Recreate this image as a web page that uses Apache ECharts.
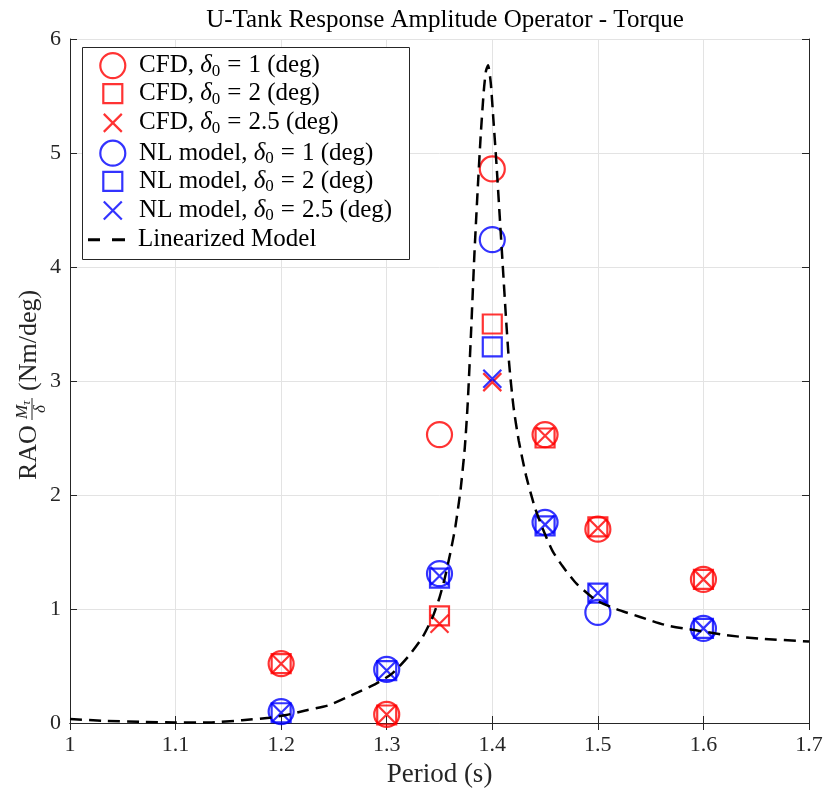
<!DOCTYPE html>
<html>
<head>
<meta charset="utf-8">
<script src="https://cdn.jsdelivr.net/npm/echarts@6/dist/echarts.min.js"></script>
<style>
  html, body { margin: 0; padding: 0; background: #fff; }
  #chart { width: 826px; height: 794px; }
</style>
</head>
<body>
<div id="chart"></div>
<script>
// Wave periods (s) at which CFD runs and the nonlinear model were evaluated
const periods = [1.2, 1.3, 1.35, 1.4, 1.45, 1.5, 1.6];

// RAO of torque, Nm/deg
const cfdDelta1   = [0.52, 0.075, 2.53, 4.86, 2.53, 1.70, 1.26];
const cfdDelta2   = [0.52, 0.070, 0.94, 3.50, 2.50, 1.72, 1.26];
const cfdDelta25  = [0.52, 0.075, 0.87, 2.99, 2.52, 1.71, 1.26];
const nlDelta1    = [0.10, 0.47, 1.31, 4.24, 1.76, 0.97, 0.83];
const nlDelta2    = [0.09, 0.46, 1.27, 3.30, 1.73, 1.14, 0.83];
const nlDelta25   = [0.09, 0.46, 1.29, 3.02, 1.74, 1.14, 0.83];

// Linearized model response curve
const linPeriod = [1.00, 1.03, 1.068, 1.10, 1.132, 1.163, 1.189, 1.205, 1.223, 1.245, 1.27, 1.29,
  1.305, 1.32, 1.334, 1.3435, 1.35, 1.355, 1.36, 1.365, 1.370, 1.374, 1.3767, 1.380, 1.383,
  1.386, 1.389, 1.392, 1.394, 1.396, 1.3985, 1.401, 1.404, 1.407, 1.410, 1.413, 1.416,
  1.420, 1.425, 1.432, 1.440, 1.448, 1.457, 1.467, 1.480, 1.4985, 1.5175, 1.54, 1.565,
  1.593, 1.622, 1.653, 1.70];
const linRao = [0.035, 0.02, 0.01, 0.005, 0.005, 0.024, 0.047, 0.07, 0.11, 0.155, 0.258, 0.346,
  0.433, 0.579, 0.754, 0.93, 1.10, 1.27, 1.48, 1.72, 2.05, 2.42, 2.80, 3.45, 4.10,
  4.65, 5.15, 5.55, 5.72, 5.77, 5.62, 5.30, 4.90, 4.45, 4.00, 3.55, 3.15,
  2.78, 2.48, 2.17, 1.90, 1.70, 1.51, 1.37, 1.22, 1.076, 1.00, 0.93, 0.857,
  0.813, 0.77, 0.74, 0.715];

// Axis ranges and ticks
const xTicks = [1, 1.1, 1.2, 1.3, 1.4, 1.5, 1.6, 1.7];
const yTicks = [0, 1, 2, 3, 4, 5, 6];

const serif = '"Liberation Serif", "DejaVu Serif", serif';
const RED = '#ff0000';
const BLUE = '#0000ff';
const INK = '#262626';
const crossPath = 'path://M0,0L10,10M10,0L0,10';
const dashIcon = 'path://M0,0h12v3h-12zM24,0h13v3h-13z';

const seriesDefs = [
  { name: 'cfd1',  data: cfdDelta1,  color: RED,  symbol: 'circle', size: 25, label: '{t|CFD, }{i|δ}{s|0}{q|=}{t|1 (deg)}' },
  { name: 'cfd2',  data: cfdDelta2,  color: RED,  symbol: 'rect',   size: 19, label: '{t|CFD, }{i|δ}{s|0}{q|=}{t|2 (deg)}' },
  { name: 'cfd25', data: cfdDelta25, color: RED,  symbol: crossPath, size: 18, label: '{t|CFD, }{i|δ}{s|0}{q|=}{t|2.5 (deg)}' },
  { name: 'nl1',   data: nlDelta1,   color: BLUE, symbol: 'circle', size: 25, label: '{t|NL model, }{i|δ}{s|0}{q|=}{t|1 (deg)}' },
  { name: 'nl2',   data: nlDelta2,   color: BLUE, symbol: 'rect',   size: 19, label: '{t|NL model, }{i|δ}{s|0}{q|=}{t|2 (deg)}' },
  { name: 'nl25',  data: nlDelta25,  color: BLUE, symbol: crossPath, size: 18, label: '{t|NL model, }{i|δ}{s|0}{q|=}{t|2.5 (deg)}' }
];
const labelByName = {};
seriesDefs.forEach(d => { labelByName[d.name] = d.label; });
labelByName['lin'] = '{t|Linearized Model}';

const LEGEND_LINE_H = 28;
function legendRich(gap) {
  return {
    g: { width: gap, fontSize: 25, lineHeight: LEGEND_LINE_H },
    t: { fontFamily: serif, fontSize: 25, color: '#000', lineHeight: LEGEND_LINE_H },
    i: { fontFamily: serif, fontSize: 25, fontStyle: 'italic', color: '#000', lineHeight: LEGEND_LINE_H },
    q: { fontFamily: serif, fontSize: 25, color: '#000', lineHeight: LEGEND_LINE_H, padding: [0, 7, 0, 7] },
    s: { fontFamily: serif, fontSize: 17, color: '#000', lineHeight: 16, verticalAlign: 'bottom' }
  };
}

const series = seriesDefs.map(d => ({
  name: d.name,
  type: 'scatter',
  silent: true,
  symbol: d.symbol,
  symbolSize: d.size,
  itemStyle: { color: 'rgba(0,0,0,0)', borderColor: d.color, borderWidth: 2.2 },
  emphasis: { disabled: true },
  data: periods.map((p, i) => [p, d.data[i]]),
  z: 2
}));
series.push({
  name: 'lin',
  type: 'line',
  silent: true,
  symbol: 'none',
  smooth: 0.2,
  itemStyle: { color: '#000' },
  lineStyle: { color: '#000', width: 2.5, type: [12, 7] },
  data: linPeriod.map((p, i) => [p, linRao[i]]),
  z: 3
});

// One legend per row so each marker keeps its own size
const iconCenterX = 111.7, textStartX = 138;
const rowTop = 66, rowStep = 29.2;
const legends = seriesDefs.map((d, k) => {
  const left = iconCenterX - d.size / 2;
  return {
    data: [d.name],
    left: left,
    top: rowTop + k * rowStep - Math.max(d.size, LEGEND_LINE_H) / 2,
    padding: 0,
    itemWidth: d.size,
    itemHeight: d.size,
    selectedMode: false,
    itemStyle: { borderWidth: 2.2 },
    formatter: name => '{g| }' + labelByName[name],
    textStyle: { rich: legendRich(textStartX - (left + d.size + 5)) },
    z: 5
  };
});
legends.push({
  data: ['lin'],
  left: 88,
  top: rowTop + 6 * rowStep - LEGEND_LINE_H / 2,
  padding: 0,
  icon: dashIcon,
  itemWidth: 37,
  itemHeight: 3,
  selectedMode: false,
  itemStyle: { color: '#000', borderWidth: 0 },
  formatter: name => '{g| }' + labelByName[name],
  textStyle: { rich: legendRich(textStartX - (88 + 37 + 5)) },
  z: 5
});

const xMin = xTicks[0], xMax = xTicks[xTicks.length - 1];
const yMin = yTicks[0], yMax = yTicks[yTicks.length - 1];

const chart = echarts.init(document.getElementById('chart'), null, { renderer: 'canvas' });
chart.setOption({
  animation: false,
  backgroundColor: '#fff',
  title: {
    text: 'U-Tank Response Amplitude Operator - Torque',
    left: 440,
    top: 3,
    textAlign: 'center',
    textStyle: { fontFamily: serif, fontSize: 25, fontWeight: 'normal', color: '#000' }
  },
  grid: { left: 70, right: 17, top: 39, bottom: 71 },
  xAxis: [
    {
      type: 'value', min: xMin, max: xMax, interval: 0.1,
      name: 'Period (s)', nameLocation: 'middle', nameGap: 38,
      nameTextStyle: { fontFamily: serif, fontSize: 27, color: INK },
      axisLine: { lineStyle: { color: INK, width: 1 } },
      axisTick: { inside: true, length: 7, lineStyle: { color: INK } },
      axisLabel: { fontFamily: serif, fontSize: 22, color: INK, margin: 11,
        formatter: v => String(Math.round(v * 10) / 10) },
      splitLine: { show: true, lineStyle: { color: '#e3e3e3', width: 1 } }
    },
    {
      type: 'value', min: xMin, max: xMax, interval: 0.1, position: 'top',
      axisLine: { show: true, lineStyle: { color: INK, width: 1 } },
      axisTick: { show: true, inside: true, length: 7, lineStyle: { color: INK } },
      axisLabel: { show: false },
      splitLine: { show: false }
    }
  ],
  yAxis: [
    {
      type: 'value', min: yMin, max: yMax, interval: 1,
      axisLine: { show: true, lineStyle: { color: INK, width: 1 } },
      axisTick: { show: true, inside: true, length: 7, lineStyle: { color: INK } },
      axisLabel: { fontFamily: serif, fontSize: 22, color: INK, margin: 9 },
      splitLine: { show: true, lineStyle: { color: '#e3e3e3', width: 1 } }
    },
    {
      type: 'value', min: yMin, max: yMax, interval: 1, position: 'right',
      axisLine: { show: true, lineStyle: { color: INK, width: 1 } },
      axisTick: { show: true, inside: true, length: 7, lineStyle: { color: INK } },
      axisLabel: { show: false },
      splitLine: { show: false }
    }
  ],
  legend: legends,
  graphic: [
    {
      type: 'rect', z: 4,
      shape: { x: 82.5, y: 47.5, width: 327, height: 212 },
      style: { fill: '#fff', stroke: INK, lineWidth: 1 }
    },
    {
      // y-axis title: RAO  M_tau / delta  (Nm/deg), reading bottom to top
      type: 'group', x: 29, y: 386, rotation: Math.PI / 2, z: 5,
      children: [
        { type: 'text', x: -94, y: 0, style: { text: 'RAO', font: '26px ' + serif, fill: INK, textAlign: 'left', textVerticalAlign: 'middle' } },
        { type: 'text', x: -33, y: -6, style: { text: 'M', font: 'italic 17px ' + serif, fill: INK, textAlign: 'left', textVerticalAlign: 'middle' } },
        { type: 'text', x: -19, y: -2, style: { text: 'τ', font: 'italic 12px ' + serif, fill: INK, textAlign: 'left', textVerticalAlign: 'middle' } },
        { type: 'line', shape: { x1: -34, y1: 3, x2: -12, y2: 3 }, style: { stroke: INK, lineWidth: 1 } },
        { type: 'text', x: -23, y: 12, style: { text: 'δ', font: 'italic 17px ' + serif, fill: INK, textAlign: 'center', textVerticalAlign: 'middle' } },
        { type: 'text', x: -5, y: 0, style: { text: '(Nm/deg)', font: '26px ' + serif, fill: INK, textAlign: 'left', textVerticalAlign: 'middle' } }
      ]
    }
  ],
  series: series
});
</script>
</body>
</html>
